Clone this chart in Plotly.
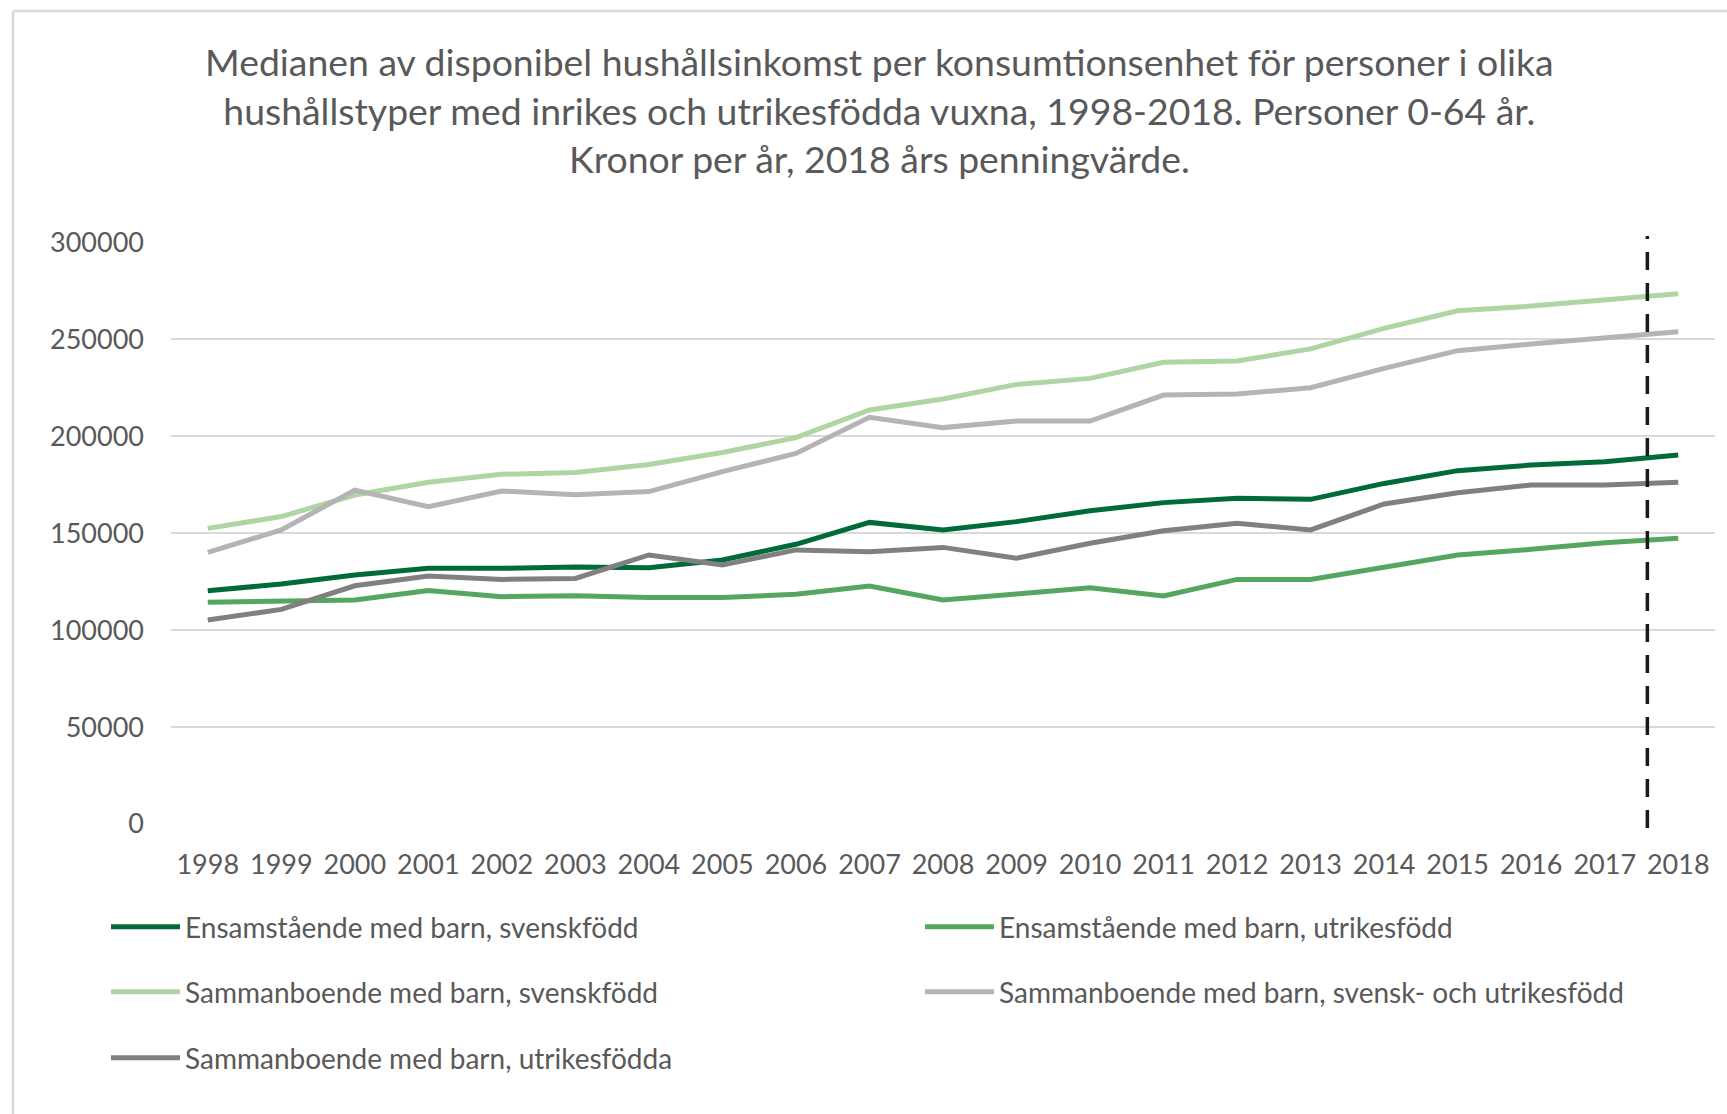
import plotly.graph_objects as go

years = [str(y) for y in range(1998, 2019)]

ens_svensk = [120300, 123800, 128500, 131900, 131900, 132600, 132200, 136200, 144300, 155600,
              151700, 156000, 161600, 165800, 168000, 167500, 175700, 182300, 185200, 186900, 190400]
ens_utrikes = [114400, 115000, 115600, 120400, 117300, 117800, 116900, 116900, 118500, 122800,
               115600, 118600, 121900, 117600, 126200, 126200, 132800, 138800, 141700, 145100, 147400]
sam_svensk = [152500, 158600, 169700, 176300, 180400, 181400, 185500, 191700, 199300, 213600,
              219300, 226800, 229900, 238200, 238900, 245100, 255700, 264800, 267200, 270700, 273600]
sam_blandad = [140100, 151700, 172300, 163700, 171800, 169800, 171500, 181800, 191200, 209800,
               204500, 207900, 207900, 221300, 221800, 225100, 235100, 244200, 247600, 251100, 254000]
sam_utrikes = [105200, 110700, 122900, 127900, 126200, 126700, 138800, 133600, 141400, 140500,
               142700, 137100, 144800, 151300, 155100, 151700, 165100, 170900, 174900, 174900, 176300]

series_names = [
    "Ensamstående med barn, svenskfödd",
    "Ensamstående med barn, utrikesfödd",
    "Sammanboende med barn, svenskfödd",
    "Sammanboende med barn, svensk- och utrikesfödd",
    "Sammanboende med barn, utrikesfödda",
]
series_values = [ens_svensk, ens_utrikes, sam_svensk, sam_blandad, sam_utrikes]
series_colors = ["#006A38", "#55A65F", "#AED5A3", "#B4B4B4", "#808080"]
legend_ids = ["legend", "legend", "legend2", "legend2", "legend3"]

y_ticks = [0, 50000, 100000, 150000, 200000, 250000, 300000]
marker_position = 19.58  # dashed line between 2017 and 2018

title_text = ("Medianen av disponibel hushållsinkomst per konsumtionsenhet för personer i olika<br>"
              "hushållstyper med inrikes och utrikesfödda vuxna, 1998-2018. Personer 0-64 år.<br>"
              "Kronor per år, 2018 års penningvärde.")

W, H = 1727, 1114
FONT = "Lato"
TXT = "#595959"

fig = go.Figure()
x_idx = list(range(len(years)))
for name, vals, col, lg in zip(series_names, series_values, series_colors, legend_ids):
    fig.add_trace(go.Scatter(
        x=x_idx, y=vals, name=name, mode="lines",
        line=dict(color=col, width=5), legend=lg, hoverinfo="x+y+name"))

fig.add_shape(type="line", xref="x", yref="paper",
              x0=marker_position, x1=marker_position,
              y0=1 - 828 / H, y1=1 - 236 / H,
              line=dict(color="#1A1A1A", width=3.5, dash="18px,13px"))

# chart area border (left + top)
fig.add_shape(type="line", xref="paper", yref="paper", x0=13 / W, x1=13 / W, y0=0, y1=1 - 11 / H,
              line=dict(color="#D9D9D9", width=2.5))
fig.add_shape(type="line", xref="paper", yref="paper", x0=13 / W, x1=1, y0=1 - 11 / H, y1=1 - 11 / H,
              line=dict(color="#D9D9D9", width=2.5))

fig.add_annotation(text=title_text, xref="paper", yref="paper", x=879 / W, y=1 - 110 / H,
                   xanchor="center", yanchor="middle", showarrow=False, align="center",
                   font=dict(family=FONT, size=37.4, color=TXT))

leg_common = dict(orientation="h", xanchor="left", yanchor="middle", x=106 / W,
                  entrywidth=730, entrywidthmode="pixels", font=dict(family=FONT, size=28, color=TXT),
                  bgcolor="rgba(0,0,0,0)", itemwidth=69, traceorder="normal")

fig.update_layout(
    width=W, height=H,
    margin=dict(l=0, r=0, t=0, b=0, autoexpand=False),
    paper_bgcolor="white", plot_bgcolor="white",
    xaxis=dict(domain=[171 / W, 1715 / W], range=[-0.5, 20.5], tickmode="array",
               tickvals=x_idx, ticktext=years, showgrid=False, zeroline=False, showline=False,
               tickfont=dict(family=FONT, size=27, color=TXT), ticks="", ticklabelstandoff=22),
    yaxis=dict(domain=[1 - 824 / H, 1 - 242.5 / H], range=[0, 300000], tickmode="array",
               tickvals=y_ticks, ticktext=[str(v) for v in y_ticks], showgrid=True,
               gridcolor="#D9D9D9", gridwidth=1.5, zeroline=False, showline=False,
               tickfont=dict(family=FONT, size=27, color=TXT), ticks="", ticklabelstandoff=26),
    legend=dict(y=1 - 927 / H, **leg_common),
    legend2=dict(y=1 - 992 / H, **leg_common),
    legend3=dict(y=1 - 1058 / H, **leg_common),
    showlegend=True,
)

fig.write_html("out.html", config={"displayModeBar": False},
               post_script="document.body.style.margin='0';")
